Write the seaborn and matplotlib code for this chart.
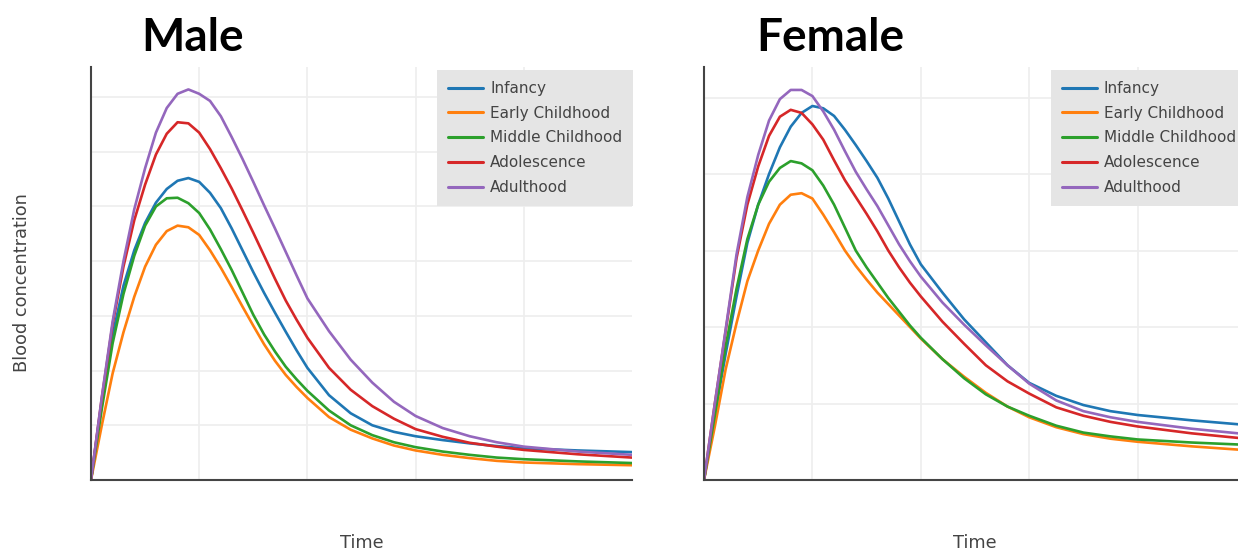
import numpy as np
import pandas as pd
import seaborn as sns
import matplotlib
matplotlib.use('Agg')
import matplotlib.pyplot as plt

# time points (same grid for both panels)
time = [0, 0.1, 0.2, 0.3, 0.4, 0.5, 0.6, 0.7, 0.8, 0.9, 1.0, 1.1, 1.2, 1.3, 1.4, 1.5,
        1.6, 1.7, 1.8, 1.9, 2.0, 2.2, 2.4, 2.6, 2.8, 3.0, 3.25, 3.5, 3.75, 4.0, 4.5, 5.0]

stages = ['Infancy', 'Early Childhood', 'Middle Childhood', 'Adolescence', 'Adulthood']

# male curves
male_infancy = [0, 1.45, 2.65, 3.55, 4.2, 4.7, 5.07, 5.32, 5.47, 5.52, 5.45, 5.25, 4.97, 4.6, 4.2, 3.8,
                3.42, 3.06, 2.71, 2.37, 2.05, 1.55, 1.22, 1.0, 0.88, 0.8, 0.73, 0.67, 0.62, 0.58, 0.54, 0.51]
male_early = [0, 1.0, 1.95, 2.7, 3.35, 3.9, 4.3, 4.55, 4.65, 4.62, 4.48, 4.2, 3.88, 3.53, 3.17, 2.82,
              2.48, 2.18, 1.92, 1.7, 1.5, 1.15, 0.92, 0.76, 0.63, 0.54, 0.46, 0.4, 0.35, 0.32, 0.29, 0.27]
male_middle = [0, 1.3, 2.5, 3.4, 4.1, 4.65, 5.0, 5.15, 5.16, 5.06, 4.88, 4.58, 4.22, 3.84, 3.43, 3.02,
               2.66, 2.35, 2.07, 1.84, 1.63, 1.27, 1.0, 0.82, 0.69, 0.6, 0.52, 0.46, 0.41, 0.38, 0.34, 0.31]
male_adol = [0, 1.5, 2.85, 3.9, 4.75, 5.4, 5.95, 6.33, 6.54, 6.52, 6.35, 6.05, 5.7, 5.33, 4.93, 4.52,
             4.1, 3.68, 3.28, 2.93, 2.6, 2.05, 1.65, 1.35, 1.12, 0.93, 0.79, 0.68, 0.61, 0.55, 0.47, 0.41]
male_adult = [0, 1.52, 2.9, 4.0, 4.95, 5.7, 6.35, 6.8, 7.06, 7.14, 7.06, 6.93, 6.65, 6.27, 5.87, 5.45,
              5.02, 4.6, 4.17, 3.74, 3.32, 2.72, 2.2, 1.78, 1.43, 1.17, 0.95, 0.8, 0.69, 0.61, 0.52, 0.46]

# female curves
female_infancy = [0, 0.85, 1.65, 2.4, 3.1, 3.6, 4.0, 4.35, 4.62, 4.8, 4.89, 4.86, 4.76, 4.58, 4.38, 4.17,
                  3.95, 3.68, 3.38, 3.08, 2.82, 2.45, 2.1, 1.8, 1.5, 1.27, 1.1, 0.98, 0.9, 0.85, 0.78, 0.72]
female_early = [0, 0.7, 1.45, 2.05, 2.6, 3.0, 3.35, 3.6, 3.73, 3.75, 3.68, 3.47, 3.24, 3.0, 2.8, 2.62,
                2.45, 2.3, 2.15, 2.0, 1.85, 1.58, 1.35, 1.14, 0.96, 0.82, 0.69, 0.6, 0.54, 0.5, 0.44, 0.39]
female_middle = [0, 0.85, 1.75, 2.5, 3.15, 3.6, 3.9, 4.08, 4.17, 4.14, 4.05, 3.85, 3.6, 3.3, 3.0, 2.78,
                 2.58, 2.38, 2.2, 2.02, 1.86, 1.58, 1.33, 1.12, 0.96, 0.84, 0.71, 0.62, 0.57, 0.53, 0.49, 0.46]
female_adol = [0, 1.0, 1.95, 2.9, 3.6, 4.1, 4.5, 4.75, 4.84, 4.8, 4.65, 4.45, 4.18, 3.92, 3.7, 3.48,
               3.25, 3.0, 2.78, 2.58, 2.4, 2.07, 1.78, 1.5, 1.29, 1.13, 0.95, 0.84, 0.76, 0.7, 0.61, 0.54]
female_adult = [0, 1.0, 1.97, 2.95, 3.7, 4.25, 4.7, 4.98, 5.1, 5.1, 5.02, 4.82, 4.58, 4.3, 4.03, 3.8,
                3.58, 3.33, 3.08, 2.86, 2.66, 2.32, 2.03, 1.76, 1.5, 1.26, 1.04, 0.9, 0.82, 0.76, 0.67, 0.6]


def long_df(series):
    rows = []
    for name, vals in zip(stages, series):
        for t, v in zip(time, vals):
            rows.append({'time': t, 'conc': v, 'stage': name})
    return pd.DataFrame(rows)


df_m = long_df([male_infancy, male_early, male_middle, male_adol, male_adult])
df_f = long_df([female_infancy, female_early, female_middle, female_adol, female_adult])

sns.set_style('white')
plt.rcParams['font.family'] = ['DejaVu Sans']

colors = sns.color_palette('tab10', 5)

fig = plt.figure(figsize=(12.38, 5.51), dpi=100)
ax_m = fig.add_axes([91 / 1238, 1 - 480 / 551, 541 / 1238, 413 / 551])
ax_f = fig.add_axes([704 / 1238, 1 - 480 / 551, 542 / 1238, 413 / 551])

for ax, df, ytop, nlines in [(ax_m, df_m, 7.55, 7), (ax_f, df_f, 5.4, 5)]:
    sns.lineplot(data=df, x='time', y='conc', hue='stage', palette=colors,
                 linewidth=1.9, ax=ax, solid_joinstyle='round')
    ax.set_xlim(0, 5)
    ax.set_ylim(0, ytop)
    ax.set_xticks([1, 2, 3, 4])
    ax.set_yticks(range(1, nlines + 1))
    ax.set_xticklabels([])
    ax.set_yticklabels([])
    ax.tick_params(length=0)
    ax.grid(True, color='#eeeeee', linewidth=1.2)
    ax.set_xlabel('')
    ax.set_ylabel('')
    for s in ['top', 'right']:
        ax.spines[s].set_visible(False)
    for s in ['left', 'bottom']:
        ax.spines[s].set_color('#444444')
        ax.spines[s].set_linewidth(1.5)
    leg = ax.legend(loc='upper left', bbox_to_anchor=(0.64, 0.993), frameon=True,
                    fancybox=False, facecolor='#e5e5e5', edgecolor='none', framealpha=1,
                    fontsize=11, handlelength=2.3, handletextpad=0.45, labelspacing=0.64,
                    borderpad=0.72, borderaxespad=0)
    for txt in leg.get_texts():
        txt.set_color('#444444')
    for ln in leg.get_lines():
        ln.set_linewidth(2.2)

fig.text(193 / 1238, 1 - 38 / 551, 'Male', ha='center', va='center',
         fontsize=33, fontweight='bold', family='Lato', color='black')
fig.text(830 / 1238, 1 - 38 / 551, 'Female', ha='center', va='center',
         fontsize=33, fontweight='bold', family='Lato', color='black')
fig.text(22 / 1238, 1 - 283 / 551, 'Blood concentration', rotation=90, ha='center',
         va='center', fontsize=12.8, color='#444444')
fig.text(362 / 1238, 1 - 543 / 551, 'Time', ha='center', va='center',
         fontsize=12.8, color='#444444')
fig.text(975 / 1238, 1 - 543 / 551, 'Time', ha='center', va='center',
         fontsize=12.8, color='#444444')

fig.savefig('out.png', dpi=100)
